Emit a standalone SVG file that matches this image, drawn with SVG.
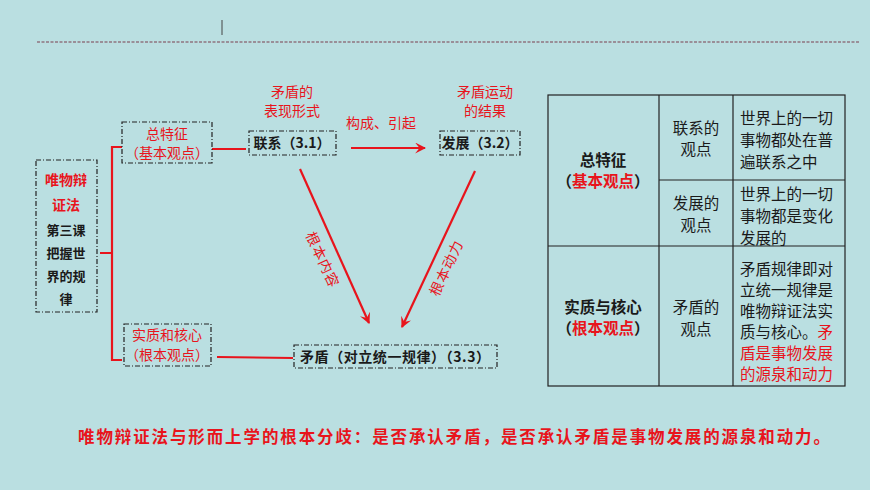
<svg xmlns="http://www.w3.org/2000/svg" width="870" height="490" viewBox="0 0 870 490">
<defs>
<style>
text{font-family:"Noto Sans CJK SC","Liberation Sans",sans-serif;}
.r{fill:#e8141c;}
.k{fill:#1a1a1a;}
.b{font-weight:bold;}
.dbox{fill:none;stroke:#222;stroke-width:1.2;stroke-dasharray:5,2,1,2;}
.ln{stroke:#e8141c;stroke-width:2.2;fill:none;}
.tb{fill:none;stroke:#222;stroke-width:1.2;}
</style>
<marker id="ah" viewBox="0 0 10 10" refX="9" refY="5" markerWidth="5" markerHeight="5" orient="auto"><path d="M0,0 L10,5 L0,10 L4,5 z" fill="#e8141c"/></marker>
</defs>
<rect width="870" height="490" fill="#badfe1"/>
<line x1="37" y1="42" x2="860" y2="42" stroke="#7a4050" stroke-width="1.2" stroke-dasharray="3,1.5"/>
<line x1="222" y1="20" x2="222" y2="35" stroke="#444" stroke-width="1"/>

<g id="connectors">
<path class="ln" d="M122,147 H112 V360 H122 M112,253 H100"/>
<line class="ln" x1="212" y1="149" x2="246" y2="149"/>
<line class="ln" x1="351" y1="148" x2="425" y2="148" marker-end="url(#ah)"/>
<line class="ln" x1="300" y1="169" x2="369" y2="323" marker-end="url(#ah)"/>
<line class="ln" x1="475" y1="171" x2="402" y2="327" marker-end="url(#ah)"/>
<line class="ln" x1="217" y1="357" x2="293" y2="358"/>
<text class="r" font-size="14" letter-spacing="1" text-anchor="middle" transform="translate(318,262) rotate(65)">根本内容</text>
<text class="r" font-size="14" letter-spacing="1" text-anchor="middle" transform="translate(451,270) rotate(-65)">根本动力</text>
<text class="r" font-size="14" text-anchor="middle" x="381" y="128">构成、引起</text>
</g>

<g id="root">
<rect class="dbox" x="36" y="160" width="61" height="152"/>
<text class="r b" font-size="14" text-anchor="middle" x="66" y="185">唯物辩</text>
<text class="r b" font-size="14" text-anchor="middle" x="66" y="210">证法</text>
<text class="k b" font-size="13" text-anchor="middle" x="66" y="235">第三课</text>
<text class="k b" font-size="13" text-anchor="middle" x="66" y="258">把握世</text>
<text class="k b" font-size="13" text-anchor="middle" x="66" y="281">界的规</text>
<text class="k b" font-size="13" text-anchor="middle" x="66" y="304">律</text>
</g>

<g id="zongtezheng">
<rect class="dbox" x="122" y="122" width="90" height="41"/>
<text class="r" font-size="14" text-anchor="middle" x="167" y="139">总特征</text>
<text class="r" font-size="14" text-anchor="middle" x="167" y="158">（基本观点）</text>
</g>

<g id="shizhi">
<rect class="dbox" x="124" y="324" width="87" height="42"/>
<text class="r" font-size="14" text-anchor="middle" x="167" y="340">实质和核心</text>
<text class="r" font-size="14" text-anchor="middle" x="167" y="360">（根本观点）</text>
</g>

<g id="lianxi">
<text class="r" font-size="14" text-anchor="middle" x="292" y="97">矛盾的</text>
<text class="r" font-size="14" text-anchor="middle" x="292" y="116">表现形式</text>
<rect class="dbox" x="249" y="131" width="87" height="24"/>
<text class="k b" font-size="14" text-anchor="middle" x="292" y="148">联系（3.1）</text>
</g>

<g id="fazhan">
<text class="r" font-size="14" text-anchor="middle" x="485" y="97">矛盾运动</text>
<text class="r" font-size="14" text-anchor="middle" x="485" y="116">的结果</text>
<rect class="dbox" x="440" y="131" width="80" height="24"/>
<text class="k b" font-size="14" text-anchor="middle" x="480" y="148">发展（3.2）</text>
</g>

<g id="maodun">
<rect class="dbox" x="294" y="345" width="203" height="23"/>
<text class="k b" font-size="14" text-anchor="middle" x="395" y="362" textLength="190">矛盾（对立统一规律）（3.3）</text>
</g>

<g id="table">
<rect class="tb" x="548" y="95" width="297" height="291"/>
<line class="tb" x1="659" y1="95" x2="659" y2="386"/>
<line class="tb" x1="733" y1="95" x2="733" y2="386"/>
<line class="tb" x1="659" y1="180" x2="845" y2="180"/>
<line class="tb" x1="548" y1="246" x2="845" y2="246"/>
<g font-size="15.5" class="k">
<text class="b" text-anchor="middle" x="603" y="166">总特征</text>
<text class="b" text-anchor="middle" x="603" y="187">（<tspan class="r">基本观点</tspan>）</text>
<text class="b" text-anchor="middle" x="603" y="313">实质与核心</text>
<text class="b" text-anchor="middle" x="603" y="334">（<tspan class="r">根本观点</tspan>）</text>
<text text-anchor="middle" x="696" y="134">联系的</text>
<text text-anchor="middle" x="696" y="155">观点</text>
<text text-anchor="middle" x="696" y="209">发展的</text>
<text text-anchor="middle" x="696" y="231">观点</text>
<text text-anchor="middle" x="696" y="313">矛盾的</text>
<text text-anchor="middle" x="696" y="335">观点</text>
<text x="740" y="124">世界上的一切</text>
<text x="740" y="146">事物都处在普</text>
<text x="740" y="168">遍联系之中</text>
<text x="740" y="200">世界上的一切</text>
<text x="740" y="222">事物都是变化</text>
<text x="740" y="244">发展的</text>
<text x="740" y="275">矛盾规律即对</text>
<text x="740" y="296">立统一规律是</text>
<text x="740" y="317">唯物辩证法实</text>
<text x="740" y="338">质与核心。<tspan class="r">矛</tspan></text>
<text class="r" x="740" y="359">盾是事物发展</text>
<text class="r" x="740" y="380">的源泉和动力</text>
</g>
</g>

<text class="r b" font-size="16.5" text-anchor="middle" x="454" y="443" textLength="752">唯物辩证法与形而上学的根本分歧：是否承认矛盾，是否承认矛盾是事物发展的源泉和动力。</text>
</svg>
